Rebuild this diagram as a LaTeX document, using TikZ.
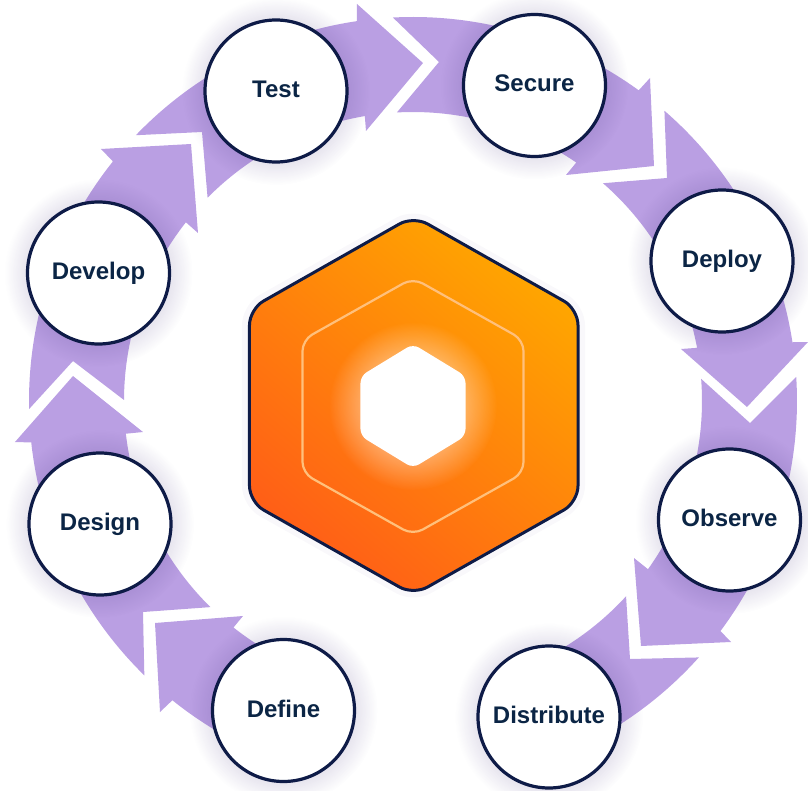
\documentclass[tikz,border=0pt]{standalone}
\usepackage{fontspec}
\setmainfont{Liberation Sans}
\usetikzlibrary{fadings}
\usetikzlibrary{backgrounds}
\definecolor{ringpurple}{HTML}{BA9FE3}
\definecolor{stagenavy}{HTML}{0E1B47}
\definecolor{labelnavy}{HTML}{0B2545}
\definecolor{shadowpurple}{HTML}{3F2C7A}
\definecolor{hexamber}{HTML}{FFA600}
\definecolor{hexred}{HTML}{FF5E17}
\definecolor{hexline}{HTML}{FFC07C}
\tikzfading[name=glowfade,inner color=transparent!12,outer color=transparent!100]

\begin{document}
\begin{tikzpicture}[x=1pt,y=1pt,
  stage/.style={draw=stagenavy,line width=3.2pt,circle,fill=white,inner sep=0pt,minimum size=142pt,text=labelnavy,text height=17pt,text depth=4pt,font=\fontsize{24}{28}\selectfont\bfseries},
  band/.style={fill=ringpurple},
  haze/.style={fill=shadowpurple,path fading=glowfade,fill opacity=.6}]
  \useasboundingbox (-413,-389) rectangle (395,401);
  \node[stage] (test) at (-137,310) {Test};
  \node[stage] (secure) at (121.5,315.5) {Secure};
  \node[stage] (deploy) at (309,140) {Deploy};
  \node[stage] (observe) at (316.5,-119) {Observe};
  \node[stage] (distribute) at (136,-316) {Distribute};
  \node[stage] (define) at (-129.5,-309.5) {Define};
  \node[stage] (design) at (-313,-123) {Design};
  \node[stage] (develop) at (-314.5,128) {Develop};

  \begin{scope}[on background layer]
  \fill[band] (248:384) arc[start angle=248,end angle=231.2,radius=384]--(-253,-311)--(-258,-222)--(-170,-215)--(231.6:289) arc[start angle=231.6,end angle=248,radius=289]--cycle;
  \fill[band] (225.6:384) arc[start angle=225.6,end angle=186.2,radius=384]--(-398,-41)--(-340,25)--(-270,-31)--(186.5:289) arc[start angle=186.5,end angle=225.5,radius=289]--(-270,-211)--cycle;
  \fill[band] (181.2:384) arc[start angle=181.2,end angle=141.4,radius=384]--(-312,252)--(-222,257)--(-215,168)--(141.8:289) arc[start angle=141.8,end angle=179.8,radius=289]--(-340,40)--cycle;
  \fill[band] (136.2:384) arc[start angle=136.2,end angle=98.4,radius=384]--(-56,397)--(10,338)--(-47,270)--(99.6:289) arc[start angle=99.6,end angle=135.3,radius=289]--(-211,269)--cycle;
  \fill[band] (93:384) arc[start angle=93,end angle=54,radius=384]--(237,323)--(241,235)--(153,226)--(55.6:289) arc[start angle=55.6,end angle=93.2,radius=289]--(26,339)--cycle;
  \fill[band] (49.1:384) arc[start angle=49.1,end angle=8.8,radius=384]--(395,59)--(334,-6)--(268,52)--(10.6:289) arc[start angle=10.6,end angle=48.9,radius=289]--(254,223)--cycle;
  \fill[band] (3.6:384) arc[start angle=3.6,end angle=-36.8,radius=384]--(318,-241)--(228,-245)--(221,-157)--(-35.6:289) arc[start angle=-35.6,end angle=4.4,radius=289]--(337,-22)--cycle;
  \fill[band] (-41.9:384) arc[start angle=-41.9,end angle=-68,radius=384]--(-68:289) arc[start angle=-68,end angle=-42.5,radius=289]--(217,-258)--cycle;
  \fill[haze] (test) circle[radius=94];
  \fill[haze] (secure) circle[radius=94];
  \fill[haze] (deploy) circle[radius=94];
  \fill[haze] (observe) circle[radius=94];
  \fill[haze] (distribute) circle[radius=94];
  \fill[haze] (define) circle[radius=94];
  \fill[haze] (design) circle[radius=94];
  \fill[haze] (develop) circle[radius=94];
  \end{scope}

  \draw[shadowpurple,opacity=.03,line width=14pt,line join=round,rounded corners=16pt] (0.5,185)--(165,92)--(165,-101)--(0.5,-194)--(-164,-101)--(-164,92)--cycle;
  \shade[top color=hexamber,bottom color=hexred,shading angle=-40,draw=stagenavy,line width=3pt,rounded corners=16pt]
    (0.5,185)--(165,92)--(165,-101)--(0.5,-194)--(-163.5,-101)--(-163.5,92)--cycle;
  \draw[hexline,line width=2.2pt,rounded corners=11pt] (0,123)--(110.5,61)--(110.5,-72)--(0,-134)--(-110.5,-72)--(-110.5,61)--cycle;
  \fill[white,path fading=glowfade] (0,-5) circle[radius=84];
  \fill[white,rounded corners=7pt] (0,57)--(52.5,25)--(52.5,-35)--(0,-67)--(-52.5,-35)--(-52.5,25)--cycle;
\end{tikzpicture}
\end{document}
